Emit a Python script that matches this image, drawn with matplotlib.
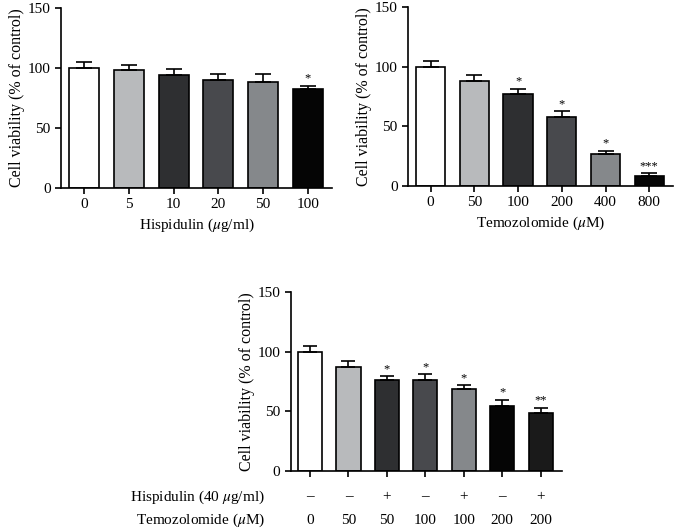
import numpy as np
import matplotlib
matplotlib.use("Agg")
import matplotlib.pyplot as plt
import matplotlib.transforms as mtrans

plt.rcParams['font.family'] = ['Liberation Serif', 'DejaVu Serif']
plt.rcParams['mathtext.fontset'] = 'stix'

# Panel A: hispidulin
hisp_doses = ["0", "5", "10", "20", "50", "100"]
hisp_mean = [100, 98, 94, 90, 88.5, 82.5]
hisp_err = [5, 4.5, 5, 5, 6.5, 2.5]
hisp_sig = ["", "", "", "", "", "*"]

# Panel B: temozolomide
tmz_doses = ["0", "50", "100", "200", "400", "800"]
tmz_mean = [100, 88, 77, 58, 27, 8.5]
tmz_err = [5, 4.5, 4.5, 4.5, 2.5, 2]
tmz_sig = ["", "", "*", "*", "*", "***"]

# Panel C: combination
combo_hisp = ["\u2013", "\u2013", "+", "\u2013", "+", "\u2013", "+"]
combo_tmz = ["0", "50", "50", "100", "100", "200", "200"]
combo_mean = [100, 87.5, 76, 76, 69, 54.5, 48.5]
combo_err = [5, 5, 3.5, 5, 3, 5, 4.5]
combo_sig = ["", "", "*", "*", "*", "*", "**"]

colors6 = ["#ffffff", "#b8babc", "#2e2f31", "#48494d", "#85888b", "#050505"]
colors7 = ["#ffffff", "#b8babc", "#2e2f31", "#48494d", "#85888b", "#050505", "#1a1a1a"]

fig = plt.figure(figsize=(6.81, 5.28), dpi=100)


def bar_panel(ax, means, errs, sig, colors, width, capsize):
    x = np.arange(len(means))
    ax.bar(x, means, width=width, color=colors, edgecolor="black",
           linewidth=1.2, zorder=2)
    ax.errorbar(x, means, yerr=[np.zeros(len(errs)), errs], fmt="none",
                ecolor="black", elinewidth=1.2, capsize=capsize,
                capthick=1.2, zorder=3)
    for xi, m, e, s in zip(x, means, errs, sig):
        if s:
            ax.text(xi, m + e + 1.0, s, ha="center", va="bottom", fontsize=9)
    ax.set_ylim(0, 150)
    ax.set_yticks([0, 50, 100, 150])
    ax.set_xlim(-0.52, len(means) - 1 + 0.54)
    ax.set_xticks(x)
    for sp in ["top", "right"]:
        ax.spines[sp].set_visible(False)
    for sp in ["left", "bottom"]:
        ax.spines[sp].set_linewidth(1.2)
    ax.tick_params(direction="out", length=4, width=1.2, labelsize=11)
    ax.set_ylabel("Cell viability (% of control)", fontsize=11.5, labelpad=2)
    return x


ax1 = fig.add_axes([0.0896, 0.644, 0.398, 0.341])
bar_panel(ax1, hisp_mean, hisp_err, hisp_sig, colors6, 0.67, 6)
ax1.set_xticklabels(hisp_doses)
ax1.set_xlabel(r"Hispidulin ($\mu$g/ml)", fontsize=11, labelpad=4)

ax2 = fig.add_axes([0.599, 0.648, 0.389, 0.339])
bar_panel(ax2, tmz_mean, tmz_err, tmz_sig, colors6, 0.67, 6)
ax2.set_xticklabels(tmz_doses)
ax2.set_xlabel(r"Temozolomide ($\mu$M)", fontsize=11, labelpad=4)

ax3 = fig.add_axes([0.427, 0.108, 0.398, 0.339])
x3 = bar_panel(ax3, combo_mean, combo_err, combo_sig, colors7, 0.63, 5)
ax3.set_xlim(-0.5, len(combo_mean) - 1 + 0.55)
ax3.set_xticklabels([])
trans = mtrans.blended_transform_factory(ax3.transData, ax3.transAxes)
for xi, h, t in zip(x3, combo_hisp, combo_tmz):
    ax3.text(xi, -0.145, h, transform=trans, ha="center", va="center", fontsize=11)
    ax3.text(xi, -0.275, t, transform=trans, ha="center", va="center", fontsize=11)
ax3.text(-1.17, -0.145, r"Hispidulin (40 $\mu$g/ml)", transform=trans,
         ha="right", va="center", fontsize=11)
ax3.text(-1.17, -0.275, r"Temozolomide ($\mu$M)", transform=trans,
         ha="right", va="center", fontsize=11)

fig.savefig("out.png", dpi=100)
